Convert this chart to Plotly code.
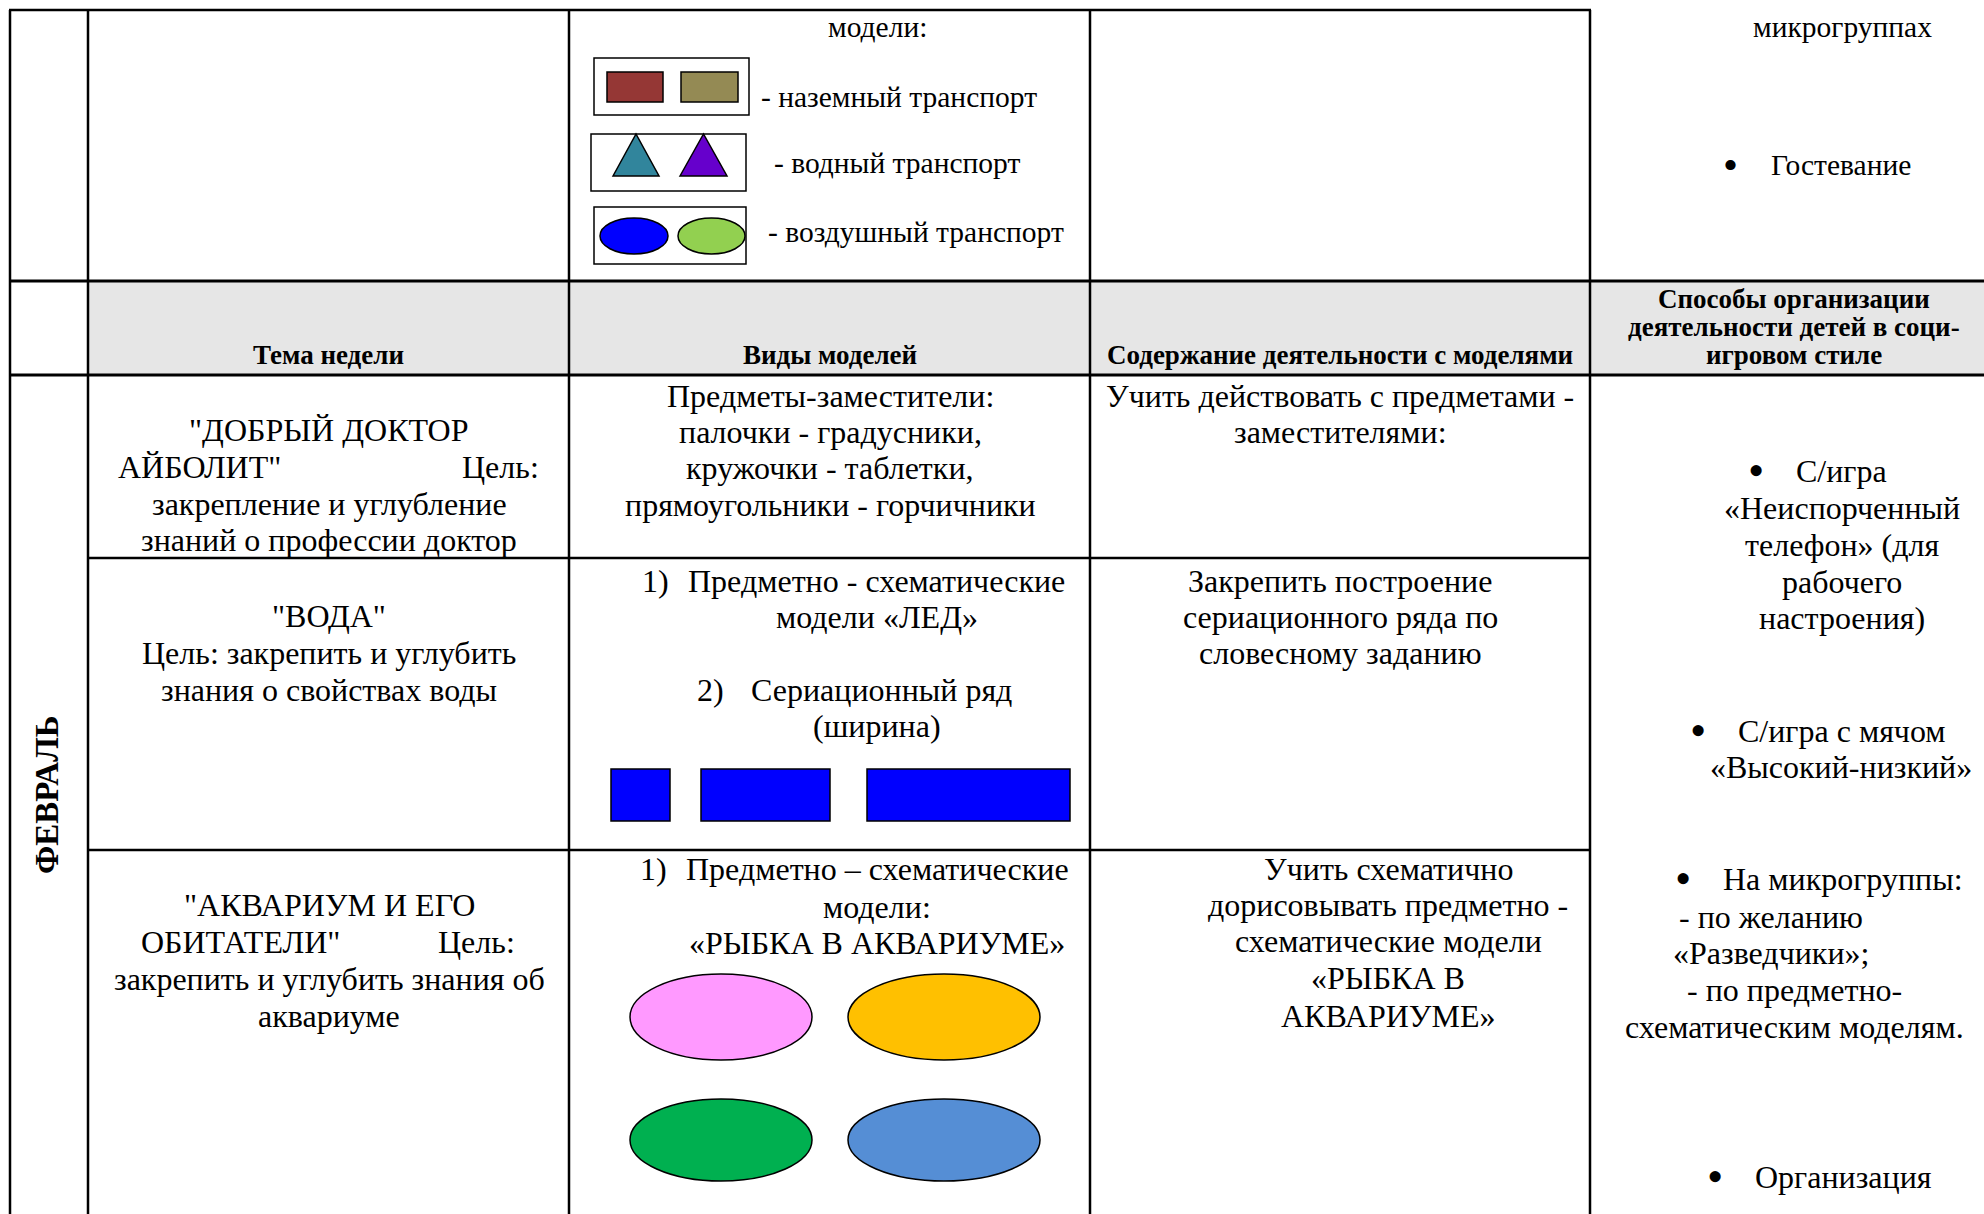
import plotly.graph_objects as go

W, H = 1984, 1214
FONT = "Liberation Serif"
BODY = 32
TOP = 29.5
HEAD = 27

# ---------------- content (text) ----------------
header_cols = ["Тема недели", "Виды моделей", "Содержание деятельности с моделями"]
header_last = ["Способы организации", "деятельности детей в соци-", "игровом стиле"]
month_label = "ФЕВРАЛЬ"

top_models_title = "модели:"
legend_labels = ["- наземный транспорт", "- водный транспорт", "- воздушный транспорт"]
legend_rect_colors = ["#953735", "#948A54"]
legend_tri_colors = ["#31859C", "#6600CC"]
legend_ell_colors = ["#0000FF", "#92D050"]
top_right_lines = ["микрогруппах", "Гостевание"]

theme1 = ['"ДОБРЫЙ ДОКТОР', 'АЙБОЛИТ"', "Цель:", "закрепление и углубление", "знаний о профессии доктор"]
models1 = ["Предметы-заместители:", "палочки - градусники,", "кружочки - таблетки,", "прямоугольники - горчичники"]
content1 = ["Учить действовать с предметами -", "заместителями:"]

theme2 = ['"ВОДА"', "Цель: закрепить и углубить", "знания о свойствах воды"]
models2 = ["1)", "Предметно - схематические", "модели «ЛЕД»", "2)", "Сериационный ряд", "(ширина)"]
content2 = ["Закрепить построение", "сериационного ряда по", "словесному заданию"]
ice_color = "#0000FF"

theme3 = ['"АКВАРИУМ И ЕГО', 'ОБИТАТЕЛИ"', "Цель:", "закрепить и углубить знания об", "аквариуме"]
models3 = ["1)", "Предметно – схематические", "модели:", "«РЫБКА В АКВАРИУМЕ»"]
content3 = ["Учить схематично", "дорисовывать предметно -", "схематические модели", "«РЫБКА В", "АКВАРИУМЕ»"]
fish_colors = ["#FF99FF", "#FFC000", "#00B050", "#558ED5"]

ways = ["С/игра", "«Неиспорченный", "телефон» (для", "рабочего", "настроения)",
        "С/игра с мячом", "«Высокий-низкий»",
        "На микрогруппы:", "- по желанию", "«Разведчики»;", "- по предметно-",
        "схематическим моделям.", "Организация"]

# ---------------- layout geometry ----------------
X0, X1, X2, X3, X4 = 10, 88, 569, 1090, 1590
Y0, YH0, YH1, YR1, YR2 = 10, 281, 375, 558, 850

shapes = []
annotations = []


def line(x0, y0, x1, y1, w=2.5):
    shapes.append(dict(type="line", x0=x0, y0=y0, x1=x1, y1=y1, xref="x", yref="y",
                       line=dict(color="black", width=w)))


def rect(x0, y0, x1, y1, fill, lw=1.5, lc="black"):
    shapes.append(dict(type="rect", x0=x0, y0=y0, x1=x1, y1=y1, xref="x", yref="y",
                       fillcolor=fill, line=dict(color=lc, width=lw)))


def ellipse(x0, y0, x1, y1, fill, lw=1.5):
    shapes.append(dict(type="circle", x0=x0, y0=y0, x1=x1, y1=y1, xref="x", yref="y",
                       fillcolor=fill, line=dict(color="black", width=lw)))


def tri(xl, xr, ytop, ybot, fill):
    xm = (xl + xr) / 2
    shapes.append(dict(type="path", path=f"M {xl},{ybot} L {xm},{ytop} L {xr},{ybot} Z",
                       xref="x", yref="y", fillcolor=fill, line=dict(color="black", width=1.5)))


def txt(x, y, s, anchor="center", size=BODY, bold=False, angle=0):
    annotations.append(dict(x=x, y=y, xref="x", yref="y", text=f"<b>{s}</b>" if bold else s,
                            showarrow=False, xanchor=anchor, yanchor="middle", textangle=angle,
                            borderpad=0,
                            font=dict(family=FONT, size=size, color="black")))


def bullet(x, y, size=BODY):
    txt(x, y, "•", size=size * 1.45)


# header background
rect(X1, YH0, W + 5, YH1, "#E6E6E6", lw=0)

# grid
line(X0 - 1, Y0, X4 + 1, Y0)
line(X0 - 1, YH0, W + 5, YH0, 3)
line(X0 - 1, YH1, W + 5, YH1, 3)
line(X1, YR1, X4, YR1)
line(X1, YR2, X4, YR2)
for xv in (X0, X1, X2, X3, X4):
    line(xv, Y0, xv, H + 5)

# ---------------- top row ----------------
txt(877, 27, top_models_title, size=TOP)
rect(594, 58, 749, 115, "white", lw=1.5)
rect(607, 72, 663, 102, legend_rect_colors[0])
rect(681, 72, 738, 102, legend_rect_colors[1])
txt(760, 97, legend_labels[0], anchor="left", size=TOP)
rect(591, 134, 746, 191, "white", lw=1.5)
tri(613, 659, 134, 176, legend_tri_colors[0])
tri(680, 727, 134, 176, legend_tri_colors[1])
txt(773, 163, legend_labels[1], anchor="left", size=TOP)
rect(594, 207, 746, 264, "white", lw=1.5)
ellipse(600, 218, 668, 254, legend_ell_colors[0])
ellipse(678, 218, 745, 254, legend_ell_colors[1])
txt(767, 232, legend_labels[2], anchor="left", size=TOP)

txt(1842, 27, top_right_lines[0], size=TOP)
bullet(1730, 164, TOP)
txt(1770, 165, top_right_lines[1], anchor="left", size=TOP)

# ---------------- header ----------------
for i, s in enumerate(header_cols):
    cx = [(X1 + X2) / 2, (X2 + X3) / 2, (X3 + X4) / 2][i]
    txt(cx, 355, s, size=HEAD, bold=True)
for s, yy in zip(header_last, [299, 327, 355]):
    txt(1794, yy, s, size=HEAD, bold=True)
txt(47, 795, month_label, size=33, bold=True, angle=-90)

# ---------------- row 1 ----------------
cx1 = 329
txt(cx1, 430, theme1[0])
txt(117, 467, theme1[1], anchor="left")
txt(540, 467, theme1[2], anchor="right")
txt(cx1, 504, theme1[3])
txt(cx1, 540, theme1[4])
for s, yy in zip(models1, [396, 432, 468, 505]):
    txt(830, yy, s)
for s, yy in zip(content1, [396, 432]):
    txt(1340, yy, s)

# ---------------- row 2 ----------------
for s, yy in zip(theme2, [616, 653, 690]):
    txt(cx1, yy, s)
txt(641, 581, models2[0], anchor="left")
txt(687, 581, models2[1], anchor="left")
txt(877, 617, models2[2])
txt(696, 690, models2[3], anchor="left")
txt(750, 690, models2[4], anchor="left")
txt(877, 726, models2[5])
rect(611, 769, 670, 821, ice_color)
rect(701, 769, 830, 821, ice_color)
rect(867, 769, 1070, 821, ice_color)
for s, yy in zip(content2, [581, 617, 653]):
    txt(1340, yy, s)

# ---------------- row 3 ----------------
txt(cx1, 905, theme3[0])
txt(140, 942, theme3[1], anchor="left")
txt(516, 942, theme3[2], anchor="right")
txt(cx1, 979, theme3[3])
txt(cx1, 1016, theme3[4])
txt(639, 869, models3[0], anchor="left")
txt(685, 869, models3[1], anchor="left")
txt(877, 907, models3[2])
txt(877, 943, models3[3])
ellipse(630, 974, 812, 1060, fish_colors[0])
ellipse(848, 974, 1040, 1060, fish_colors[1])
ellipse(630, 1099, 812, 1181, fish_colors[2])
ellipse(848, 1099, 1040, 1181, fish_colors[3])
for s, yy in zip(content3, [869, 905, 941, 978, 1016]):
    txt(1388, yy, s)

# ---------------- last column ----------------
items = [(1756, 1795, 471, 0), (1698, 1737, 731, 5), (1683, 1722, 879, 7), (1715, 1754, 1177, 12)]
for bx, tx, yy, idx in items:
    bullet(bx, yy - 1)
    txt(tx, yy, ways[idx], anchor="left")
for idx, yy in zip([1, 2, 3, 4], [508, 545, 582, 618]):
    txt(1842, yy, ways[idx])
txt(1841, 767, ways[6])
txt(1771, 917, ways[8])
txt(1771, 953, ways[9])
txt(1794, 990, ways[10])
txt(1794, 1027, ways[11])

fig = go.Figure()
fig.update_layout(
    width=W, height=H, margin=dict(l=0, r=0, t=0, b=0),
    paper_bgcolor="white", plot_bgcolor="white",
    xaxis=dict(range=[0, W], visible=False, fixedrange=True),
    yaxis=dict(range=[H, 0], visible=False, fixedrange=True),
    shapes=shapes, annotations=annotations, showlegend=False,
)
fig.write_html("out.html", config={"displayModeBar": False, "staticPlot": True},
               post_script="document.body.style.margin='0px';document.body.style.overflow='hidden';")
